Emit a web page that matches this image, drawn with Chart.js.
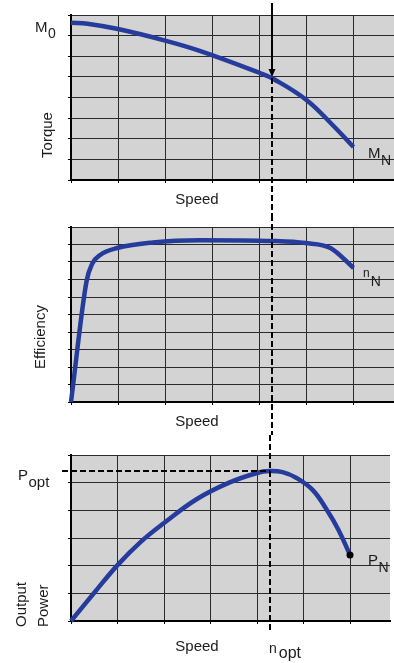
<!DOCTYPE html>
<html>
<head>
<meta charset="utf-8">
<script src="https://cdn.jsdelivr.net/npm/chart.js@4.4.1/dist/chart.umd.min.js"></script>
<style>
html, body { margin: 0; padding: 0; background: #fff; overflow: hidden; }
canvas { display: block; }
</style>
</head>
<body>
<canvas id="torque" width="394" height="215"></canvas>
<canvas id="eff" width="394" height="220"></canvas>
<canvas id="power" width="394" height="228"></canvas>
<script>
// speed is in grid divisions, values in grid divisions of each panel
const torqueSpeed = [0, 0.35, 1, 2, 2.75, 4, 4.3, 5, 5.55, 6];
const torqueVals  = [7.62, 7.58, 7.32, 6.76, 6.25, 5.2, 4.9, 3.88, 2.68, 1.6];

const effSpeed = [0, 0.33, 0.45, 0.62, 0.98, 1.74, 2.74, 4.28, 4.98, 5.51, 6];
const effVals  = [0, 6.9, 7.9, 8.4, 8.8, 9.12, 9.25, 9.2, 9.08, 8.8, 7.66];

const powerSpeed = [0, 0.5, 1, 1.5, 2, 2.7, 3.4, 4.0, 4.27, 4.55, 4.85, 5.2, 5.5, 5.75, 6];
const powerVals  = [0, 1.02, 2.02, 2.86, 3.54, 4.4, 5.0, 5.35, 5.42, 5.38, 5.17, 4.73, 4.02, 3.3, 2.39];

const nOpt = 4.27;
const speedMax = 6.86;
const torqueMax = 8, effMax = 10, powerMax = 6;

const FONT = '"Liberation Sans", Arial, sans-serif';
const INK = '#1c1c1c';
const BLUE = '#263c9c';

function subText(ctx, main, sub, x, y, size, subSize, drop, gap) {
  ctx.font = size + 'px ' + FONT;
  ctx.textAlign = 'left';
  ctx.textBaseline = 'alphabetic';
  ctx.fillText(main, x, y);
  const w = ctx.measureText(main).width;
  ctx.font = subSize + 'px ' + FONT;
  ctx.fillText(sub, x + w + (gap || 0.5), y + drop);
}

function dashedLine(ctx, x1, y1, x2, y2) {
  ctx.save();
  ctx.strokeStyle = '#000';
  ctx.lineWidth = 2;
  ctx.setLineDash([6, 3]);
  ctx.beginPath();
  ctx.moveTo(x1, y1);
  ctx.lineTo(x2, y2);
  ctx.stroke();
  ctx.restore();
}

const decor = {
  id: 'decor',
  beforeDraw(chart) {
    const {ctx, chartArea: a} = chart;
    ctx.save();
    ctx.fillStyle = '#d3d3d3';
    ctx.fillRect(a.left, a.top, a.right - a.left, a.bottom - a.top);
    ctx.restore();
  },
  afterDraw(chart, args, o) {
    const ctx = chart.ctx;
    const xo = Math.round(chart.scales.x.getPixelForValue(nOpt));

    if (o.arrow) {
      ctx.save();
      ctx.strokeStyle = '#000';
      ctx.fillStyle = '#000';
      ctx.lineWidth = 2;
      ctx.beginPath();
      ctx.moveTo(xo, o.arrow[0]);
      ctx.lineTo(xo, o.arrow[1] - 6);
      ctx.stroke();
      ctx.beginPath();
      ctx.moveTo(xo - 3.5, o.arrow[1] - 8);
      ctx.lineTo(xo + 3.5, o.arrow[1] - 8);
      ctx.lineTo(xo, o.arrow[1]);
      ctx.closePath();
      ctx.fill();
      ctx.restore();
    }
    dashedLine(ctx, xo, o.dash[0], xo, o.dash[1]);

    if (o.peakLine) {
      const yp = chart.scales.y.getPixelForValue(Math.max(...powerVals));
      dashedLine(ctx, 62, yp, xo, yp);
    }

    ctx.save();
    ctx.fillStyle = INK;
    (o.subs || []).forEach(s => subText(ctx, s[0], s[1], s[2], s[3], s[4], s[5], s[6], s[7]));
    ctx.font = '15px ' + FONT;
    ctx.textAlign = 'center';
    ctx.textBaseline = 'alphabetic';
    ctx.fillText('Speed', 197, o.speedY);
    (o.vtitles || []).forEach(t => {
      ctx.save();
      ctx.translate(t.x, t.y);
      ctx.rotate(-Math.PI / 2);
      ctx.textAlign = t.align;
      ctx.textBaseline = 'middle';
      ctx.fillText(t.text, 0, 0);
      ctx.restore();
    });
    ctx.restore();
  }
};

function panel(id, xs, ys, yMax, top, bottom, opts, dot, mono) {
  const cv = document.getElementById(id);
  const last = xs.length - 1;
  const grid = { color: '#2a2a2a', lineWidth: 1, drawTicks: true, tickLength: 3, tickColor: '#000' };
  const border = { display: true, color: '#000', width: 2 };
  return new Chart(cv, {
    type: 'line',
    data: {
      datasets: [{
        data: xs.map((x, i) => ({ x: x, y: ys[i] })),
        borderColor: BLUE,
        borderWidth: 4.5,
        cubicInterpolationMode: mono ? 'monotone' : 'default',
        tension: 0.4,
        pointRadius: c => (dot && c.dataIndex === last) ? 3.5 : 0,
        pointBackgroundColor: '#000',
        pointBorderWidth: 0,
        clip: false
      }]
    },
    options: {
      responsive: false,
      animation: false,
      events: [],
      layout: { padding: { top: top, left: 0, right: 0, bottom: 0 } },
      plugins: { legend: { display: false }, tooltip: { enabled: false }, decor: opts },
      scales: {
        x: {
          type: 'linear', min: 0, max: speedMax, bounds: 'data',
          ticks: { display: false, stepSize: 1, includeBounds: false },
          grid: grid, border: border,
          afterFit: s => { s.height = cv.height - bottom; }
        },
        y: {
          type: 'linear', min: 0, max: yMax,
          ticks: { display: false, stepSize: 1 },
          grid: grid, border: border,
          afterFit: s => { s.width = 71; }
        }
      }
    },
    plugins: [decor]
  });
}

panel('torque', torqueSpeed, torqueVals, torqueMax, 15, 180, {
  arrow: [3, 77],
  dash: [78, 215],
  subs: [['M', '0', 35, 32, 15, 14, 6], ['M', 'N', 368, 158, 15, 14, 7]],
  speedY: 204,
  vtitles: [{ text: 'Torque', x: 48, y: 135, align: 'center' }]
}, false, false);

panel('eff', effSpeed, effVals, effMax, 12, 187, {
  dash: [0, 220],
  subs: [['n', 'N', 363, 62, 12, 14, 9, 1]],
  speedY: 211,
  vtitles: [{ text: 'Efficiency', x: 41, y: 122, align: 'center' }]
}, false, true);

panel('power', powerSpeed, powerVals, powerMax, 20, 186, {
  dash: [0, 197],
  peakLine: true,
  subs: [['P', 'opt', 18, 45, 15, 15, 7], ['P', 'N', 368, 130, 15, 14, 7], ['n', 'opt', 269, 218, 14, 16, 5, 2]],
  speedY: 216,
  vtitles: [{ text: 'Output', x: 22, y: 192, align: 'left' }, { text: 'Power', x: 44, y: 192, align: 'left' }]
}, true, false);
</script>
</body>
</html>
